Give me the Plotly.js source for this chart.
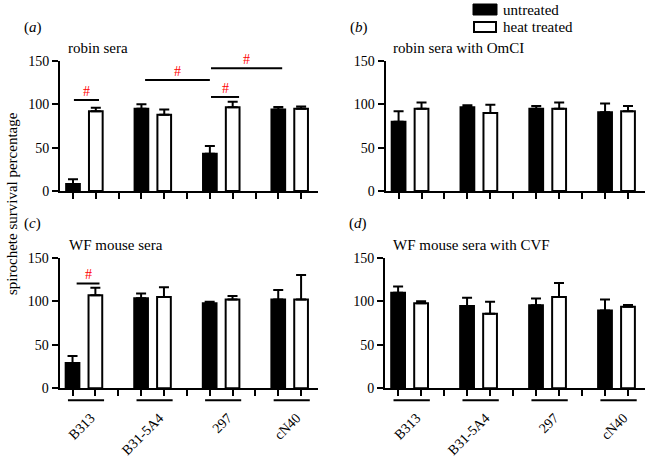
<!DOCTYPE html>
<html>
<head>
<meta charset="utf-8">
<script src="https://cdn.plot.ly/plotly-3.0.1.min.js"></script>
<style>html,body{margin:0;padding:0;background:#fff}</style>
</head>
<body>
<div id="chart" style="width:652px;height:459px"></div>
<script>
// ---- data ----
const strains = ['B313', 'B31-5A4', '297', 'cN40'];
const seriesNames = ['untreated', 'heat treated'];
const panelLetters = ['a', 'b', 'c', 'd'];
const panelTitles = ['robin sera', 'robin sera with OmCI', 'WF mouse sera', 'WF mouse sera with CVF'];
const yTitle = 'spirochete survival percentage';
const yTicks = [0, 50, 100, 150];

// panel (a) robin sera
const aUntreated = [8, 95, 43, 94];
const aUntreatedErr = [5.5, 5, 9, 3];
const aHeated = [92, 88, 96.5, 95];
const aHeatedErr = [4, 6, 6.5, 2.5];
// panel (b) robin sera with OmCI
const bUntreated = [80, 96.5, 95, 91];
const bUntreatedErr = [12, 2.5, 3, 10];
const bHeated = [95, 90, 95, 92];
const bHeatedErr = [7, 9.5, 7, 6];
// panel (c) WF mouse sera
const cUntreated = [29, 103.3, 97.6, 102];
const cUntreatedErr = [8, 5.7, 1.9, 11];
const cHeated = [107, 105, 102, 102];
const cHeatedErr = [8.6, 11, 4, 28];
// panel (d) WF mouse sera with CVF
const dUntreated = [109.8, 94.5, 95.3, 89.5];
const dUntreatedErr = [7.2, 9.5, 7.7, 12.5];
const dHeated = [97.6, 85.7, 105, 93.8];
const dHeatedErr = [2.4, 13.8, 16, 1.9];

// significance markers (#): bar start / end positions and heights
const sigAStart = [0.04, 3.16, 6.05, 6.05];
const sigAEnd = [1.14, 6.0, 9.17, 7.28];
const sigAHeight = [105, 128, 141.5, 108.5];
const sigCStart = [0.18];
const sigCEnd = [1.18];
const sigCHeight = [120.5];
const sigSymbol = '#';

// ---- build ----
const serif = 'Liberation Serif, Times New Roman, serif';
const panels = [
  {u: aUntreated, ue: aUntreatedErr, h: aHeated, he: aHeatedErr},
  {u: bUntreated, ue: bUntreatedErr, h: bHeated, he: bHeatedErr},
  {u: cUntreated, ue: cUntreatedErr, h: cHeated, he: cHeatedErr},
  {u: dUntreated, ue: dUntreatedErr, h: dHeated, he: dHeatedErr}
];
const posU = strains.map((s, i) => 3 * i);
const posH = strains.map((s, i) => 3 * i + 1);
const groupCenters = strains.map((s, i) => 3 * i + 0.8);
const allTicks = [];
for (let i = 0; i <= 3 * strains.length - 2; i++) allTicks.push(i);

const W = 652, H = 459;
const px = v => v / W;
const py = v => 1 - v / H;
const domX = [[px(60), px(318)], [px(385.5), px(645)], [px(59.5), px(318)], [px(385), px(645)]];
const domY = [[py(191), py(61)], [py(191), py(61)], [py(388.3), py(257.7)], [py(388.3), py(257.7)]];

const traces = [];
const layout = {
  width: W, height: H, autosize: false,
  margin: {l: 0, r: 0, t: 0, b: 0},
  paper_bgcolor: '#fff', plot_bgcolor: '#fff',
  showlegend: false,
  barmode: 'overlay',
  font: {family: serif, color: '#000', size: 14},
  shapes: [], annotations: []
};

panels.forEach((p, k) => {
  const sfx = k === 0 ? '' : String(k + 1);
  const xa = 'x' + sfx, ya = 'y' + sfx;
  traces.push({
    type: 'bar', x: posU, y: p.u, width: 0.6, xaxis: xa, yaxis: ya, name: seriesNames[0],
    marker: {color: '#000', line: {color: '#000', width: 2}},
    error_y: {type: 'data', symmetric: false, array: p.ue, arrayminus: p.ue.map(() => 0), color: '#000', thickness: 2, width: 5}
  });
  traces.push({
    type: 'bar', x: posH, y: p.h, width: 0.6, xaxis: xa, yaxis: ya, name: seriesNames[1],
    marker: {color: '#fff', line: {color: '#000', width: 2}},
    error_y: {type: 'data', symmetric: false, array: p.he, arrayminus: p.he.map(() => 0), color: '#000', thickness: 2, width: 5}
  });
  const bottom = k >= 2;
  layout['xaxis' + sfx] = {
    domain: domX[k], anchor: ya, range: [-0.57, 10.74],
    showgrid: false, zeroline: false, showline: true, linewidth: 2, linecolor: '#000',
    tickmode: 'array', tickvals: groupCenters, ticktext: strains,
    showticklabels: bottom, ticks: '', tickangle: -45,
    ticklabelstandoff: 14,
    tickfont: {family: serif, size: 14, color: '#000'},
    minor: {tickmode: 'array', tickvals: allTicks, ticks: 'outside', ticklen: 6, tickwidth: 2, tickcolor: '#000', showgrid: false},
    fixedrange: true
  };
  layout['yaxis' + sfx] = {
    domain: domY[k], anchor: xa, range: [0, 150],
    showgrid: false, zeroline: false, showline: true, linewidth: 2, linecolor: '#000',
    tickmode: 'array', tickvals: yTicks, ticks: 'outside', ticklen: 6, tickwidth: 2, tickcolor: '#000',
    tickfont: {family: serif, size: 14, color: '#000'}, fixedrange: true
  };
  // panel letter
  layout.annotations.push({
    xref: 'paper', yref: 'paper', x: domX[k][0] - px(38), y: domY[k][1] + 34 / H,
    text: '(<i>' + panelLetters[k] + '</i>)', showarrow: false, xanchor: 'left', yanchor: 'middle',
    font: {family: serif, size: 15, color: '#000'}
  });
  // panel title
  layout.annotations.push({
    xref: 'paper', yref: 'paper', x: domX[k][0] + px(k === 2 ? 7 : 6), y: domY[k][1] + 13 / H,
    text: panelTitles[k], showarrow: false, xanchor: 'left', yanchor: 'middle',
    font: {family: serif, size: 15, color: '#000'}
  });
  // group underlines for bottom panels
  if (bottom) {
    strains.forEach((s, i) => {
      layout.shapes.push({
        type: 'line', xref: xa, yref: ya + ' domain', x0: 3 * i - 0.2, x1: 3 * i + 1.38,
        y0: -12 / 130.6, y1: -12 / 130.6, line: {color: '#000', width: 2}
      });
    });
  }
});

function addSig(xa, ya, starts, ends, heights) {
  starts.forEach((s, i) => {
    layout.shapes.push({type: 'line', xref: xa, yref: ya, x0: s, x1: ends[i], y0: heights[i], y1: heights[i],
      line: {color: '#000', width: 2}});
    layout.annotations.push({xref: xa, yref: ya, x: (s + ends[i]) / 2, y: heights[i], yshift: -1,
      text: sigSymbol, showarrow: false, xanchor: 'center', yanchor: 'bottom',
      font: {family: serif, size: 14, color: '#ff0000'}});
  });
}
addSig('x', 'y', sigAStart, sigAEnd, sigAHeight);
addSig('x3', 'y3', sigCStart, sigCEnd, sigCHeight);

// y axis title
layout.annotations.push({
  xref: 'paper', yref: 'paper', x: px(12), y: py(204), text: yTitle, textangle: -90,
  showarrow: false, xanchor: 'center', yanchor: 'middle', font: {family: serif, size: 15, color: '#000'}
});

// legend
layout.shapes.push({type: 'rect', xref: 'paper', yref: 'paper', x0: px(473), x1: px(497), y0: py(15), y1: py(4),
  fillcolor: '#000', line: {color: '#000', width: 1}});
layout.shapes.push({type: 'rect', xref: 'paper', yref: 'paper', x0: px(474), x1: px(496), y0: py(32), y1: py(22),
  fillcolor: '#fff', line: {color: '#000', width: 2}});
layout.annotations.push({xref: 'paper', yref: 'paper', x: px(501), y: py(9.5), text: seriesNames[0],
  showarrow: false, xanchor: 'left', yanchor: 'middle', font: {family: serif, size: 15, color: '#000'}});
layout.annotations.push({xref: 'paper', yref: 'paper', x: px(501), y: py(27), text: seriesNames[1],
  showarrow: false, xanchor: 'left', yanchor: 'middle', font: {family: serif, size: 15, color: '#000'}});

Plotly.newPlot('chart', traces, layout, {staticPlot: true, displayModeBar: false});
</script>
</body>
</html>
